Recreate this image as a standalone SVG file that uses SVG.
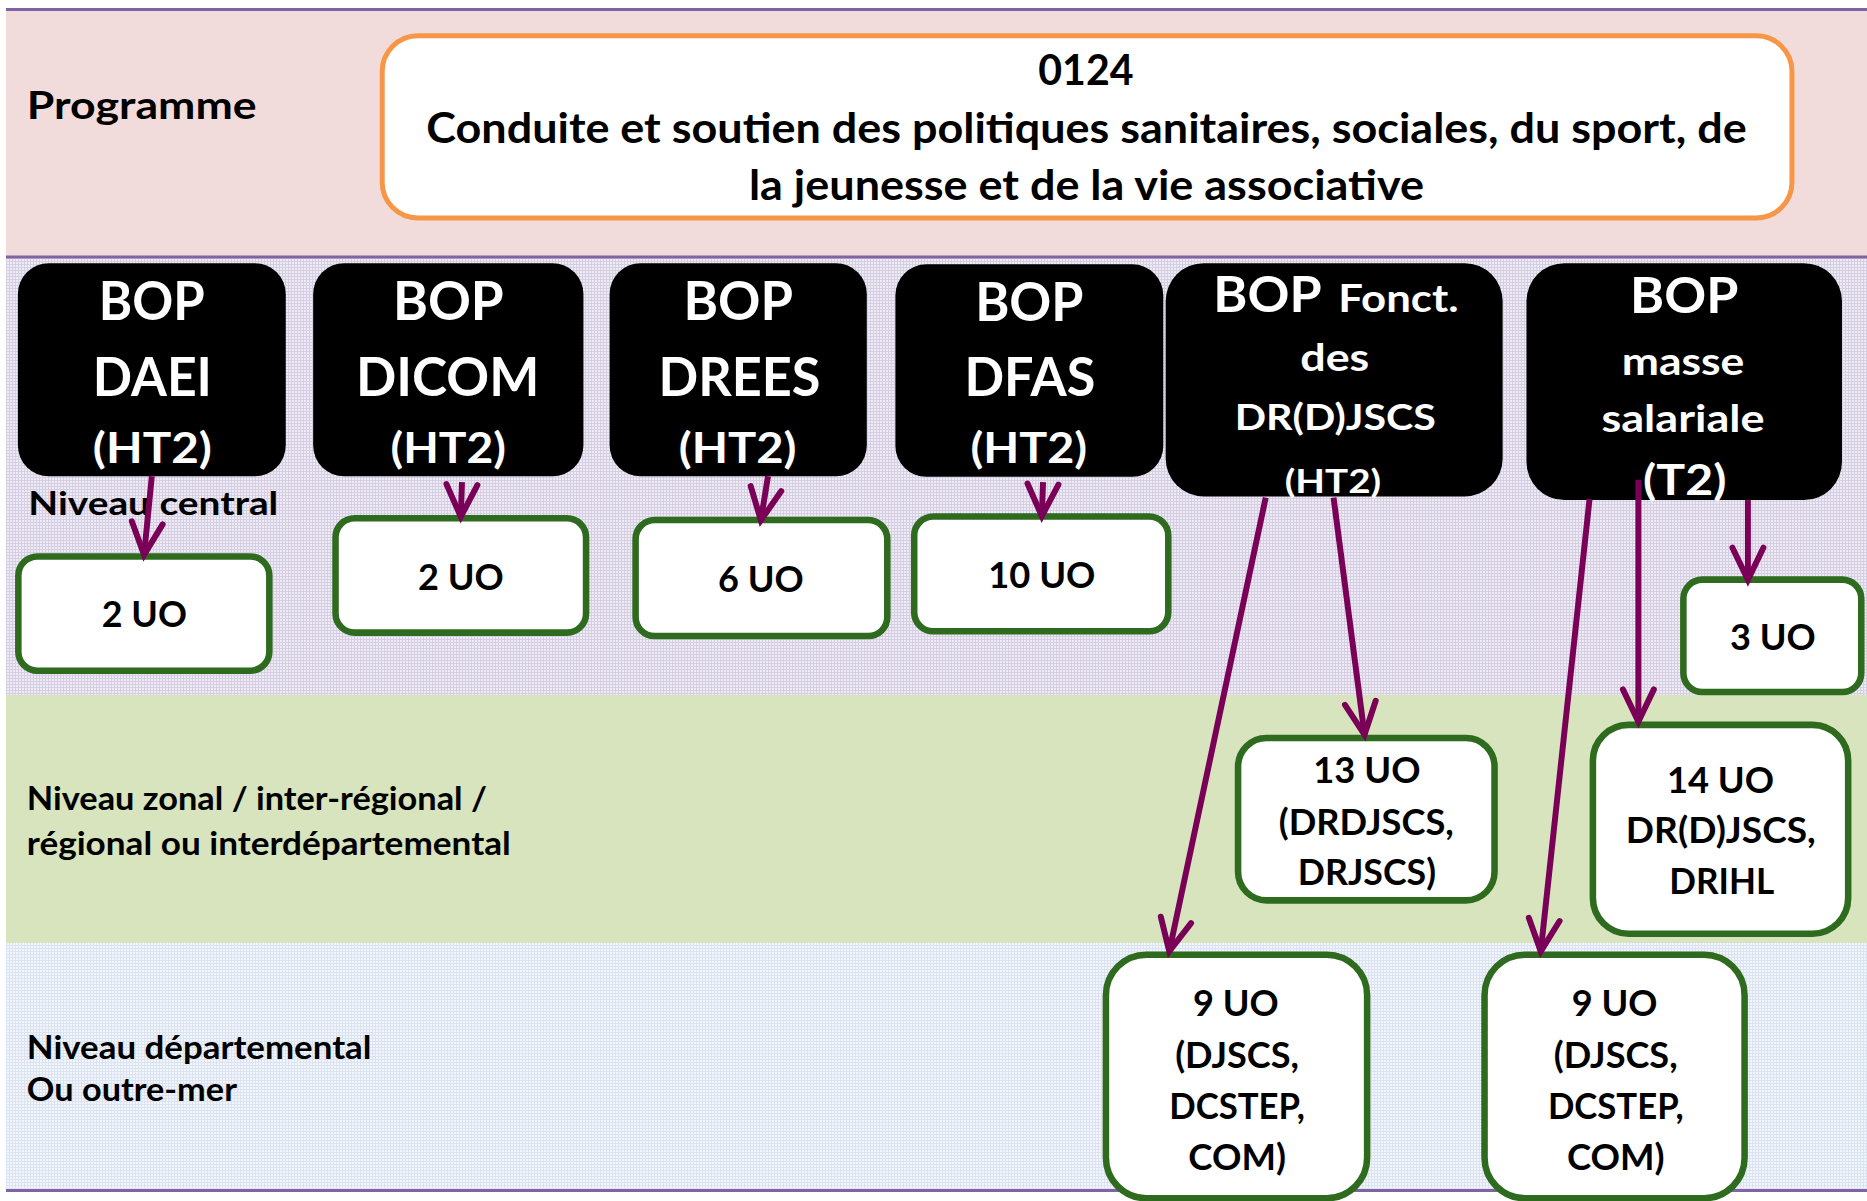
<svg xmlns="http://www.w3.org/2000/svg" width="1867" height="1201" viewBox="0 0 1867 1201">
<defs>
<style>
.t{font-family:Lato,'Open Sans','Liberation Sans',sans-serif;font-weight:700}
.w{fill:#FFFFFF}
.k{fill:#000000}
.bop{fill:#000000}
.uo{fill:#FFFFFF;stroke:#2F6B1F;stroke-width:5.5}
.sep{stroke:#8064A2;stroke-width:3;fill:none}
.arr{stroke:#7A0057;stroke-width:5;fill:none;marker-end:url(#ah)}
</style>
<pattern id="lav" patternUnits="userSpaceOnUse" width="3" height="3">
<rect width="3" height="3" fill="#EEEBF4"/>
<rect width="3" height="1" fill="#D6CFE3"/>
<rect width="1" height="3" fill="#D6CFE3"/>
</pattern>
<pattern id="blu" patternUnits="userSpaceOnUse" width="3" height="3">
<rect width="3" height="3" fill="#F2F5FB"/>
<rect width="3" height="1" fill="#DCE3F0"/>
<rect width="1" height="3" fill="#DCE3F0"/>
</pattern>
<marker id="ah" markerUnits="userSpaceOnUse" orient="auto" refX="0" refY="0" overflow="visible">
<path d="M-27,-13 L0,0 L-27,13" fill="none" stroke="#7A0057" stroke-width="5" stroke-linecap="round" stroke-linejoin="miter"/>
</marker>
</defs>
<rect width="1867" height="1201" fill="#FFFFFF"/>
<g id="bands">
<rect x="6" y="9" width="1861" height="248" fill="#F2DCDB"/>
<rect x="6" y="257" width="1861" height="438" fill="url(#lav)"/>
<rect x="6" y="695" width="1861" height="248" fill="#D7E4BD"/>
<rect x="6" y="943" width="1861" height="247" fill="url(#blu)"/>
<line class="sep" x1="6" y1="9.5" x2="1867" y2="9.5"/>
<line class="sep" x1="6" y1="257" x2="1867" y2="257"/>
<line class="sep" x1="6" y1="1190.5" x2="1867" y2="1190.5"/>
</g>
<g transform="scale(1.19068)">
<g id="labels">
<text class="t k" x="22.5" y="100" font-size="32" textLength="193" lengthAdjust="spacingAndGlyphs">Programme</text>
<text class="t k" x="23.7" y="432.5" font-size="27" textLength="210" lengthAdjust="spacingAndGlyphs">Niveau central</text>
<text class="t k" x="22.5" y="680" font-size="27" textLength="386.5" lengthAdjust="spacingAndGlyphs">Niveau zonal / inter-régional /</text>
<text class="t k" x="22.5" y="718" font-size="27" textLength="406.5" lengthAdjust="spacingAndGlyphs">régional ou interdépartemental</text>
<text class="t k" x="22.5" y="889" font-size="27" textLength="289.5" lengthAdjust="spacingAndGlyphs">Niveau départemental</text>
<text class="t k" x="22.5" y="925" font-size="27" textLength="176.5" lengthAdjust="spacingAndGlyphs">Ou outre-mer</text>
</g>
<g id="programme">
<rect x="321" y="30" width="1184" height="153" rx="30" fill="#FFFFFF" stroke="#F79646" stroke-width="4.2"/>
<text class="t k" x="872" y="71.5" font-size="35" textLength="80" lengthAdjust="spacingAndGlyphs">0124</text>
<text class="t k" x="358" y="120" font-size="35" textLength="1109" lengthAdjust="spacingAndGlyphs">Conduite et soutien des politiques sanitaires, sociales, du sport, de</text>
<text class="t k" x="629" y="168" font-size="35" textLength="567" lengthAdjust="spacingAndGlyphs">la jeunesse et de la vie associative</text>
</g>
<g id="bop-daei">
<rect class="bop" x="15" y="221" width="225" height="179" rx="26"/>
<text class="t w" x="83" y="269" font-size="45" textLength="89" lengthAdjust="spacingAndGlyphs">BOP</text>
<text class="t w" x="78" y="333" font-size="45" textLength="100" lengthAdjust="spacingAndGlyphs">DAEI</text>
<text class="t w" x="78" y="389" font-size="35" textLength="100" lengthAdjust="spacingAndGlyphs">(HT2)</text>
</g>
<g id="bop-dicom">
<rect class="bop" x="263" y="221" width="227" height="179" rx="26"/>
<text class="t w" x="330" y="269" font-size="45" textLength="93" lengthAdjust="spacingAndGlyphs">BOP</text>
<text class="t w" x="299" y="333" font-size="45" textLength="154" lengthAdjust="spacingAndGlyphs">DICOM</text>
<text class="t w" x="328" y="389" font-size="35" textLength="97" lengthAdjust="spacingAndGlyphs">(HT2)</text>
</g>
<g id="bop-drees">
<rect class="bop" x="512" y="221" width="216" height="179" rx="26"/>
<text class="t w" x="574" y="269" font-size="45" textLength="92" lengthAdjust="spacingAndGlyphs">BOP</text>
<text class="t w" x="553" y="333" font-size="45" textLength="136" lengthAdjust="spacingAndGlyphs">DREES</text>
<text class="t w" x="570" y="389" font-size="35" textLength="99" lengthAdjust="spacingAndGlyphs">(HT2)</text>
</g>
<g id="bop-dfas">
<rect class="bop" x="752" y="222" width="225" height="178.5" rx="26"/>
<text class="t w" x="819" y="269.5" font-size="45" textLength="91" lengthAdjust="spacingAndGlyphs">BOP</text>
<text class="t w" x="810" y="333" font-size="45" textLength="110" lengthAdjust="spacingAndGlyphs">DFAS</text>
<text class="t w" x="815" y="389" font-size="35" textLength="98" lengthAdjust="spacingAndGlyphs">(HT2)</text>
</g>
<g id="bop-fonct">
<rect class="bop" x="979" y="221" width="283" height="196" rx="32"/>
<text class="t w" x="1019" y="262" font-size="41" textLength="91" lengthAdjust="spacingAndGlyphs">BOP</text>
<text class="t w" x="1124" y="262" font-size="32" textLength="101" lengthAdjust="spacingAndGlyphs">Fonct.</text>
<text class="t w" x="1092" y="312" font-size="32" textLength="58" lengthAdjust="spacingAndGlyphs">des</text>
<text class="t w" x="1037" y="361" font-size="31" textLength="169" lengthAdjust="spacingAndGlyphs">DR(D)JSCS</text>
<text class="t w" x="1079" y="414" font-size="28" textLength="81" lengthAdjust="spacingAndGlyphs">(HT2)</text>
</g>
<g id="bop-masse">
<rect class="bop" x="1282" y="221" width="265" height="199" rx="32"/>
<text class="t w" x="1369" y="263" font-size="41" textLength="91" lengthAdjust="spacingAndGlyphs">BOP</text>
<text class="t w" x="1362" y="315" font-size="32" textLength="103" lengthAdjust="spacingAndGlyphs">masse</text>
<text class="t w" x="1345" y="363" font-size="32" textLength="137" lengthAdjust="spacingAndGlyphs">salariale</text>
<text class="t w" x="1380" y="416" font-size="35" textLength="70" lengthAdjust="spacingAndGlyphs">(T2)</text>
</g>
<g id="uo-daei">
<rect class="uo" x="15.4" y="467.3" width="210.8" height="96" rx="16"/>
<text class="t k" x="85.5" y="526.5" font-size="31" textLength="71.5" lengthAdjust="spacingAndGlyphs">2 UO</text>
</g>
<g id="uo-dicom">
<rect class="uo" x="281.8" y="435.3" width="210.4" height="96" rx="16"/>
<text class="t k" x="351" y="495.5" font-size="31" textLength="72" lengthAdjust="spacingAndGlyphs">2 UO</text>
</g>
<g id="uo-drees">
<rect class="uo" x="533.8" y="436.8" width="211.4" height="97.4" rx="16"/>
<text class="t k" x="603" y="497" font-size="31" textLength="72" lengthAdjust="spacingAndGlyphs">6 UO</text>
</g>
<g id="uo-dfas">
<rect class="uo" x="767.8" y="433.8" width="213.4" height="96.4" rx="16"/>
<text class="t k" x="830" y="494" font-size="31" textLength="90" lengthAdjust="spacingAndGlyphs">10 UO</text>
</g>
<g id="uo-3">
<rect class="uo" x="1413.8" y="486.8" width="149.4" height="94.4" rx="16"/>
<text class="t k" x="1453" y="546" font-size="31" textLength="72" lengthAdjust="spacingAndGlyphs">3 UO</text>
</g>
<g id="uo-13">
<rect class="uo" x="1039.8" y="619.8" width="215.4" height="136.4" rx="24"/>
<text class="t k" x="1103" y="658" font-size="30" textLength="90" lengthAdjust="spacingAndGlyphs">13 UO</text>
<text class="t k" x="1074" y="701" font-size="30" textLength="147" lengthAdjust="spacingAndGlyphs">(DRDJSCS,</text>
<text class="t k" x="1090" y="743" font-size="30" textLength="116" lengthAdjust="spacingAndGlyphs">DRJSCS)</text>
</g>
<g id="uo-14">
<rect class="uo" x="1337.8" y="608.8" width="214.4" height="175.4" rx="30"/>
<text class="t k" x="1400" y="666" font-size="30" textLength="90" lengthAdjust="spacingAndGlyphs">14 UO</text>
<text class="t k" x="1365.5" y="708" font-size="30" textLength="159.5" lengthAdjust="spacingAndGlyphs">DR(D)JSCS,</text>
<text class="t k" x="1402" y="751" font-size="30" textLength="88" lengthAdjust="spacingAndGlyphs">DRIHL</text>
</g>
<g id="uo-9a">
<rect class="uo" x="928.8" y="801.8" width="219.4" height="204.5" rx="34"/>
<text class="t k" x="1002" y="853" font-size="30" textLength="72" lengthAdjust="spacingAndGlyphs">9 UO</text>
<text class="t k" x="987" y="897" font-size="30" textLength="104" lengthAdjust="spacingAndGlyphs">(DJSCS,</text>
<text class="t k" x="982" y="940" font-size="30" textLength="114" lengthAdjust="spacingAndGlyphs">DCSTEP,</text>
<text class="t k" x="998" y="982.5" font-size="30" textLength="82" lengthAdjust="spacingAndGlyphs">COM)</text>
</g>
<g id="uo-9b">
<rect class="uo" x="1246.8" y="801.8" width="218.4" height="204.5" rx="34"/>
<text class="t k" x="1320" y="853" font-size="30" textLength="72" lengthAdjust="spacingAndGlyphs">9 UO</text>
<text class="t k" x="1305" y="897" font-size="30" textLength="104" lengthAdjust="spacingAndGlyphs">(DJSCS,</text>
<text class="t k" x="1300" y="940" font-size="30" textLength="114" lengthAdjust="spacingAndGlyphs">DCSTEP,</text>
<text class="t k" x="1316" y="982.5" font-size="30" textLength="82" lengthAdjust="spacingAndGlyphs">COM)</text>
</g>
<g id="connectors">
<line class="arr" x1="127.5" y1="400" x2="121" y2="466"/>
<line class="arr" x1="388" y1="405" x2="387" y2="434"/>
<line class="arr" x1="645" y1="400" x2="639" y2="437"/>
<line class="arr" x1="876" y1="405" x2="875" y2="433.5"/>
<line class="arr" x1="1063" y1="418" x2="982" y2="799"/>
<line class="arr" x1="1120" y1="418" x2="1146" y2="617"/>
<line class="arr" x1="1335" y1="419" x2="1294" y2="799"/>
<line class="arr" x1="1376" y1="403" x2="1376" y2="606"/>
<line class="arr" x1="1468" y1="420" x2="1468" y2="487"/>
</g>
</g>
</svg>
